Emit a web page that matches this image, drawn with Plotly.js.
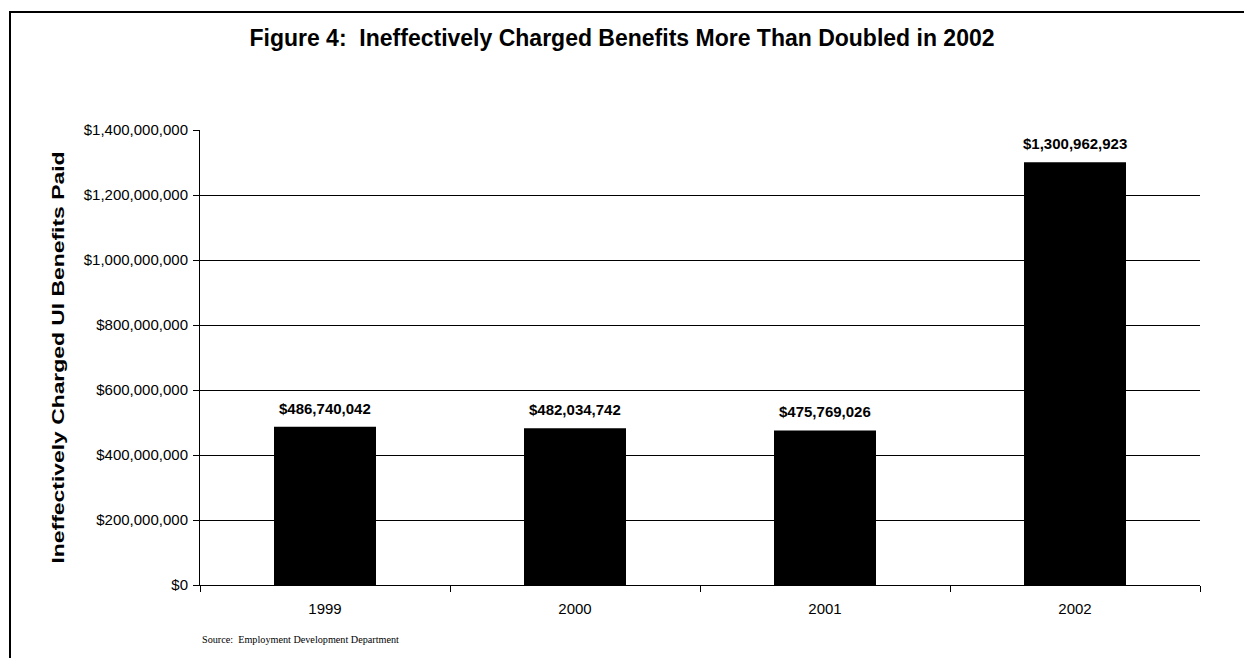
<!DOCTYPE html>
<html>
<head>
<meta charset="utf-8">
<script src="https://cdn.plot.ly/plotly-3.0.1.min.js"></script>
<style>
  html, body { margin: 0; padding: 0; background: #ffffff; }
  #wrap { position: relative; width: 1244px; height: 658px; overflow: hidden; }
  #frame { position: absolute; left: 9px; top: 11px; width: 1300px; height: 700px;
           border-left: 2px solid #000; border-top: 2px solid #000; pointer-events: none; z-index: 5; }
  #chart { position: absolute; left: 0; top: 0; width: 1244px; height: 658px; }
</style>
</head>
<body>
<div id="wrap">
  <div id="chart"></div>
  <div id="frame"></div>
</div>
<script>
const years = ["1999", "2000", "2001", "2002"];
const benefits = [486740042, 482034742, 475769026, 1300962923];
const valueLabels = ["$486,740,042", "$482,034,742", "$475,769,026", "$1,300,962,923"];
const yTickValues = [0, 200000000, 400000000, 600000000, 800000000, 1000000000, 1200000000, 1400000000];
const yTickLabels = ["$0", "$200,000,000", "$400,000,000", "$600,000,000", "$800,000,000", "$1,000,000,000", "$1,200,000,000", "$1,400,000,000"];

const font = "Liberation Sans, Arial, sans-serif";

const trace = {
  type: "bar",
  x: years,
  y: benefits,
  marker: { color: "#000000", line: { width: 0 } },
  width: 0.408,
  hoverinfo: "none"
};

// category axes place annotations by serial index
const annotations = years.map((yr, i) => ({
  x: i, y: benefits[i], xref: "x", yref: "y",
  text: "<b>" + valueLabels[i] + "</b>",
  showarrow: false, yanchor: "bottom", yshift: 8,
  font: { family: font, size: 15, color: "#000" }
}));
annotations.push({
  xref: "paper", yref: "paper", x: 0, y: -0.119, xanchor: "left", yanchor: "middle",
  text: "Source:  Employment Development Department", showarrow: false,
  font: { family: "Liberation Serif, Times New Roman, serif", size: 10.2, color: "#000" }
});

const layout = {
  width: 1244, height: 658,
  margin: { l: 200, r: 44, t: 130, b: 73, pad: 0 },
  paper_bgcolor: "#ffffff", plot_bgcolor: "#ffffff",
  showlegend: false,
  title: {
    text: "<b>Figure 4:  Ineffectively Charged Benefits More Than Doubled in 2002</b>",
    x: 0.5, xref: "container", xanchor: "center",
    y: 1 - 38 / 658, yref: "container", yanchor: "middle",
    font: { family: font, size: 23, color: "#000" }
  },
  xaxis: {
    type: "category",
    range: [-0.5, years.length - 0.5],
    showline: true, linecolor: "#000", linewidth: 1,
    ticks: "outside", tickcolor: "#000", ticklen: 6, tickwidth: 1,
    tickson: "boundaries",
    ticklabelstandoff: 10,
    showgrid: false, zeroline: false,
    tickfont: { family: font, size: 15, color: "#000" },
    fixedrange: true
  },
  yaxis: {
    range: [0, 1400000000],
    tickvals: yTickValues, ticktext: yTickLabels,
    showline: true, linecolor: "#000", linewidth: 1,
    ticks: "outside", tickcolor: "#000", ticklen: 6, tickwidth: 1,
    ticklabelstandoff: 2,
    showgrid: true, gridcolor: "#000", gridwidth: 1,
    zeroline: false,
    tickfont: { family: font, size: 15, color: "#000" },
    title: {
      text: "<b>Ineffectively Charged UI Benefits Paid</b>",
      font: { family: font, size: 16, color: "#000" },
      standoff: 15
    },
    automargin: false,
    fixedrange: true
  },
  annotations: annotations
};

Plotly.newPlot("chart", [trace], layout, { displayModeBar: false, staticPlot: true }).then(() => {
  // the reference's axis title is drawn horizontally stretched
  const t = document.querySelector("#chart .ytitle");
  if (t) {
    t.setAttribute("textLength", "412");
    t.setAttribute("lengthAdjust", "spacingAndGlyphs");
  }
});
</script>
</body>
</html>
